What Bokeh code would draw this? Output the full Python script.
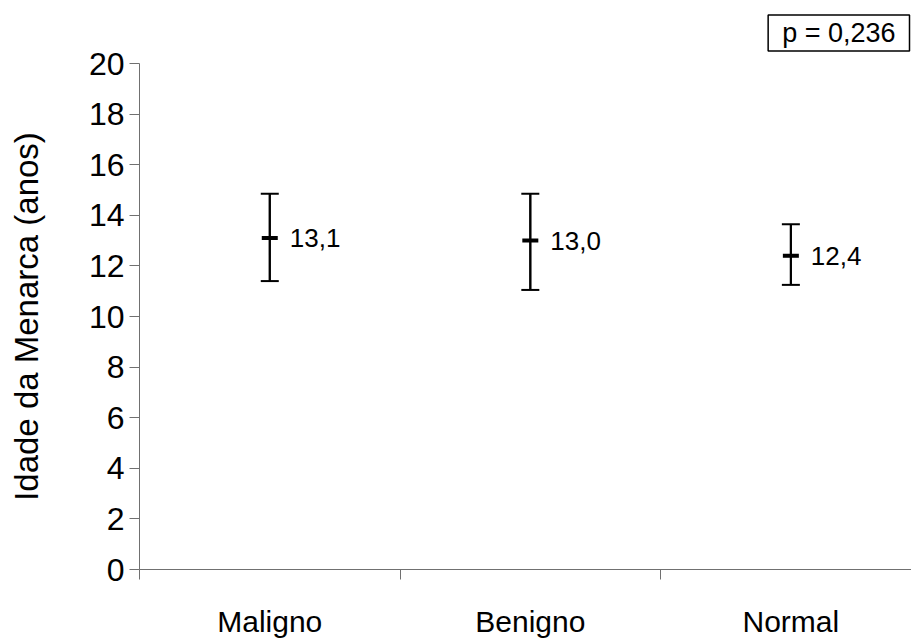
from bokeh.plotting import figure
from bokeh.models import (ColumnDataSource, Range1d, FixedTicker, Whisker, TeeHead, Title)
from bokeh.core.properties import value
from bokeh.embed import file_html
from bokeh.resources import INLINE

categories = ["Maligno", "Benigno", "Normal"]
means = [13.1, 13.0, 12.4]
upper = [14.85, 14.85, 13.65]
lower = [11.4, 11.05, 11.25]
mean_labels = ["13,1", "13,0", "12,4"]
y_ticks = [0, 2, 4, 6, 8, 10, 12, 14, 16, 18, 20]
y_title = "Idade da Menarca (anos)"
p_text = "p = 0,236"

xpos = [i + 0.5 for i in range(len(categories))]
src = ColumnDataSource(dict(x=xpos, mean=means, upper=upper, lower=lower, lab=mean_labels))

FONT = "Liberation Sans"
AXC = "#707070"

ttl = Title(text=p_text, align="right", text_font=FONT, text_font_size="27px",
            text_font_style="normal", text_color="black",
            border_line_color="black", border_line_width=1.5,
            background_fill_color="white", padding=(14, 3), standoff=25, offset=2)

p = figure(width=911, height=641, output_backend="svg", toolbar_location=None,
           x_range=Range1d(0, 2.963), y_range=Range1d(0, 20), title=ttl,
           min_border_left=139, min_border_right=0, min_border_top=61, min_border_bottom=72)
p.outline_line_color = None
p.xgrid.grid_line_color = None
p.ygrid.grid_line_color = None
p.background_fill_color = "white"

# y axis
ya = p.yaxis[0]
ya.ticker = FixedTicker(ticks=y_ticks, minor_ticks=[])
ya.axis_line_color = AXC
ya.major_tick_line_color = AXC
ya.major_tick_out = 10
ya.major_tick_in = 0
ya.minor_tick_out = 0
ya.major_label_standoff = 5
ya.major_label_text_font = FONT
ya.major_label_text_font_size = "32px"
ya.major_label_text_color = "black"
ya.axis_label = y_title
ya.axis_label_text_font = FONT
ya.axis_label_text_font_style = "normal"
ya.axis_label_text_font_size = "33px"
ya.axis_label_text_color = "black"
ya.axis_label_standoff = 41

# x axis
xa = p.xaxis[0]
xa.ticker = FixedTicker(ticks=xpos, minor_ticks=[0, 1, 2, 3])
xa.major_label_overrides = {x: c for x, c in zip(xpos, categories)}
xa.axis_line_color = AXC
xa.major_tick_out = 0
xa.major_tick_in = 0
xa.minor_tick_out = 10
xa.minor_tick_in = 0
xa.minor_tick_line_color = AXC
xa.major_label_standoff = 25
xa.major_label_text_font = FONT
xa.major_label_text_font_size = "30px"
xa.major_label_text_color = "black"

# error bars
p.segment(x0="x", y0="lower", x1="x", y1="upper", source=src, line_color="black", line_width=2)
w = Whisker(base="x", upper="upper", lower="lower", source=src, dimension="height",
            line_width=2, line_color="black",
            upper_head=TeeHead(size=18, line_width=2, line_color="black"),
            lower_head=TeeHead(size=18, line_width=2, line_color="black"))
p.add_layout(w)
p.scatter(x="x", y="mean", source=src, marker="dash", size=16, line_width=4, line_color="black")
p.text(x="x", y="mean", text="lab", source=src, x_offset=20, text_baseline="middle",
       text_font=value(FONT), text_font_size="26px", text_color="black")

open("out.html", "w").write(file_html(p, INLINE))
